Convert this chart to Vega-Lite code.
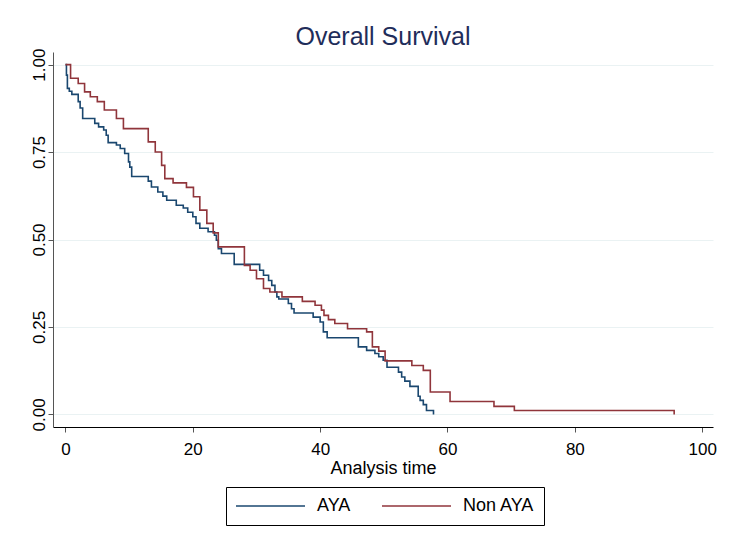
{
  "$schema": "https://vega.github.io/schema/vega-lite/v6.json",
  "width": 660,
  "height": 375,
  "autosize": {"type": "none"},
  "padding": {"left": 53, "top": 52, "right": 21, "bottom": 124},
  "background": "white",
  "title": {"text": "Overall Survival", "fontSize": 25, "font": "Liberation Sans", "fontWeight": "normal", "color": "#1f2d5a", "offset": -2, "anchor": "middle"},
  "config": {
    "view": {"stroke": null},
    "font": "Liberation Sans",
    "legend": {"strokeWidth": 1}
  },
  "data": {"values": [
    {"group":"AYA","time":0,"surv":1.0},
    {"group":"AYA","time":0.15,"surv":0.97},
    {"group":"AYA","time":0.3,"surv":0.932},
    {"group":"AYA","time":0.6,"surv":0.924},
    {"group":"AYA","time":1.0,"surv":0.915},
    {"group":"AYA","time":2.0,"surv":0.894},
    {"group":"AYA","time":2.3,"surv":0.876},
    {"group":"AYA","time":2.7,"surv":0.846},
    {"group":"AYA","time":4.6,"surv":0.832},
    {"group":"AYA","time":5.2,"surv":0.822},
    {"group":"AYA","time":6.0,"surv":0.813},
    {"group":"AYA","time":6.4,"surv":0.798},
    {"group":"AYA","time":6.7,"surv":0.777},
    {"group":"AYA","time":8.0,"surv":0.770},
    {"group":"AYA","time":8.6,"surv":0.760},
    {"group":"AYA","time":9.3,"surv":0.746},
    {"group":"AYA","time":9.9,"surv":0.722},
    {"group":"AYA","time":10.1,"surv":0.707},
    {"group":"AYA","time":10.4,"surv":0.680},
    {"group":"AYA","time":13.0,"surv":0.667},
    {"group":"AYA","time":13.5,"surv":0.650},
    {"group":"AYA","time":14.5,"surv":0.636},
    {"group":"AYA","time":15.3,"surv":0.624},
    {"group":"AYA","time":15.9,"surv":0.612},
    {"group":"AYA","time":17.4,"surv":0.598},
    {"group":"AYA","time":18.5,"surv":0.590},
    {"group":"AYA","time":19.2,"surv":0.578},
    {"group":"AYA","time":20.0,"surv":0.565},
    {"group":"AYA","time":20.5,"surv":0.546},
    {"group":"AYA","time":21.1,"surv":0.532},
    {"group":"AYA","time":22.4,"surv":0.522},
    {"group":"AYA","time":23.4,"surv":0.512},
    {"group":"AYA","time":23.7,"surv":0.498},
    {"group":"AYA","time":24.0,"surv":0.474},
    {"group":"AYA","time":24.5,"surv":0.460},
    {"group":"AYA","time":26.5,"surv":0.429},
    {"group":"AYA","time":30.5,"surv":0.412},
    {"group":"AYA","time":31.1,"surv":0.398},
    {"group":"AYA","time":31.9,"surv":0.383},
    {"group":"AYA","time":32.4,"surv":0.369},
    {"group":"AYA","time":32.9,"surv":0.350},
    {"group":"AYA","time":33.2,"surv":0.336},
    {"group":"AYA","time":33.5,"surv":0.330},
    {"group":"AYA","time":35.0,"surv":0.317},
    {"group":"AYA","time":35.5,"surv":0.302},
    {"group":"AYA","time":35.9,"surv":0.290},
    {"group":"AYA","time":38.9,"surv":0.278},
    {"group":"AYA","time":40.0,"surv":0.264},
    {"group":"AYA","time":40.5,"surv":0.236},
    {"group":"AYA","time":41.1,"surv":0.219},
    {"group":"AYA","time":46.0,"surv":0.193},
    {"group":"AYA","time":47.3,"surv":0.183},
    {"group":"AYA","time":48.6,"surv":0.174},
    {"group":"AYA","time":49.2,"surv":0.165},
    {"group":"AYA","time":49.9,"surv":0.155},
    {"group":"AYA","time":50.5,"surv":0.135},
    {"group":"AYA","time":52.3,"surv":0.121},
    {"group":"AYA","time":52.8,"surv":0.107},
    {"group":"AYA","time":53.3,"surv":0.095},
    {"group":"AYA","time":54.1,"surv":0.080},
    {"group":"AYA","time":55.4,"surv":0.052},
    {"group":"AYA","time":55.7,"surv":0.040},
    {"group":"AYA","time":56.2,"surv":0.028},
    {"group":"AYA","time":56.7,"surv":0.011},
    {"group":"AYA","time":57.8,"surv":0.0},
    {"group":"Non AYA","time":0,"surv":1.0},
    {"group":"Non AYA","time":0.8,"surv":0.961},
    {"group":"Non AYA","time":2.0,"surv":0.946},
    {"group":"Non AYA","time":3.0,"surv":0.922},
    {"group":"Non AYA","time":3.9,"surv":0.908},
    {"group":"Non AYA","time":5.0,"surv":0.894},
    {"group":"Non AYA","time":6.1,"surv":0.870},
    {"group":"Non AYA","time":8.0,"surv":0.846},
    {"group":"Non AYA","time":9.1,"surv":0.817},
    {"group":"Non AYA","time":13.0,"surv":0.779},
    {"group":"Non AYA","time":14.1,"surv":0.750},
    {"group":"Non AYA","time":15.1,"surv":0.712},
    {"group":"Non AYA","time":15.6,"surv":0.674},
    {"group":"Non AYA","time":16.9,"surv":0.662},
    {"group":"Non AYA","time":19.0,"surv":0.649},
    {"group":"Non AYA","time":20.1,"surv":0.622},
    {"group":"Non AYA","time":21.1,"surv":0.584},
    {"group":"Non AYA","time":22.2,"surv":0.546},
    {"group":"Non AYA","time":23.2,"surv":0.519},
    {"group":"Non AYA","time":24.0,"surv":0.479},
    {"group":"Non AYA","time":28.1,"surv":0.426},
    {"group":"Non AYA","time":29.0,"surv":0.412},
    {"group":"Non AYA","time":30.0,"surv":0.388},
    {"group":"Non AYA","time":31.1,"surv":0.360},
    {"group":"Non AYA","time":32.1,"surv":0.350},
    {"group":"Non AYA","time":34.0,"surv":0.336},
    {"group":"Non AYA","time":37.2,"surv":0.323},
    {"group":"Non AYA","time":39.2,"surv":0.312},
    {"group":"Non AYA","time":40.2,"surv":0.298},
    {"group":"Non AYA","time":40.6,"surv":0.283},
    {"group":"Non AYA","time":41.3,"surv":0.271},
    {"group":"Non AYA","time":42.3,"surv":0.260},
    {"group":"Non AYA","time":44.3,"surv":0.245},
    {"group":"Non AYA","time":47.3,"surv":0.236},
    {"group":"Non AYA","time":48.2,"surv":0.193},
    {"group":"Non AYA","time":49.2,"surv":0.181},
    {"group":"Non AYA","time":50.2,"surv":0.153},
    {"group":"Non AYA","time":54.4,"surv":0.140},
    {"group":"Non AYA","time":56.2,"surv":0.126},
    {"group":"Non AYA","time":57.3,"surv":0.064},
    {"group":"Non AYA","time":60.4,"surv":0.037},
    {"group":"Non AYA","time":67.3,"surv":0.023},
    {"group":"Non AYA","time":70.5,"surv":0.011},
    {"group":"Non AYA","time":95.6,"surv":0.0}
  ]},
  "mark": {"type": "line", "interpolate": "step-after", "strokeWidth": 1.6},
  "encoding": {
    "x": {
      "field": "time", "type": "quantitative",
      "scale": {"domain": [-1.96, 101.7], "nice": false, "zero": false},
      "axis": {
        "values": [0, 20, 40, 60, 80, 100], "title": "Analysis time", "grid": false,
        "labelFontSize": 17, "titleFontSize": 18, "titleFontWeight": "normal",
        "labelColor": "black", "titleColor": "black",
        "domainColor": "black", "tickColor": "#555555", "tickSize": 5,
        "labelPadding": 9, "titlePadding": 2, "labelFont": "Liberation Sans", "titleFont": "Liberation Sans"
      }
    },
    "y": {
      "field": "surv", "type": "quantitative",
      "scale": {"domain": [-0.036, 1.036], "nice": false, "zero": false},
      "axis": {
        "values": [0, 0.25, 0.5, 0.75, 1], "format": ".2f", "title": null,
        "labelAngle": 270, "labelFontSize": 17, "labelColor": "black",
        "grid": true, "gridColor": "#eaf2f3", "gridWidth": 1,
        "domainColor": "#555555", "tickColor": "#555555", "tickSize": 5,
        "labelPadding": 0, "labelFont": "Liberation Sans"
      }
    },
    "color": {
      "field": "group", "type": "nominal",
      "scale": {"domain": ["AYA", "Non AYA"], "range": ["#1a476f", "#90353b"]},
      "legend": {
        "title": null, "orient": "none", "direction": "horizontal",
        "legendX": 173, "legendY": 435,
        "symbolType": "stroke", "symbolSize": 4761, "symbolStrokeWidth": 1.6,
        "clipHeight": 20,
        "labelFontSize": 18, "labelColor": "black", "labelFont": "Liberation Sans",
        "labelOffset": 11, "columnPadding": 30, "padding": 9,
        "strokeColor": "black"
      }
    }
  }
}
